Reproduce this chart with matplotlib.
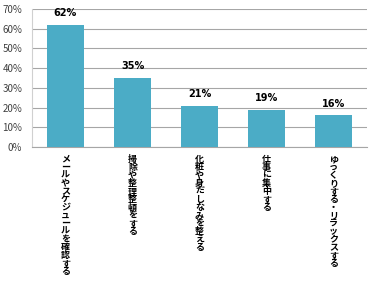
# -*- coding: utf-8 -*-

import numpy as np
import matplotlib
matplotlib.use("Agg")
import matplotlib.pyplot as plt
import matplotlib.ticker as tick

plt.rcParams["font.family"] = ["Noto Sans CJK JP", "DejaVu Sans"]

BAR_COLOR = "#4BACC6"
GRID_COLOR = "#A6A6A6"

categories = ["メールやスケジュールを確認する",
              "掃除や整理整頓をする",
              "化粧や身だしなみを整える",
              "仕事に集中する",
              "ゆっくりする・リラックスする"]
values = [62, 35, 21, 19, 16]
yticks = [0, 10, 20, 30, 40, 50, 60, 70]

fig = plt.figure(figsize=(3.84, 2.87), dpi=100)
ax = fig.add_axes([32/384, 1 - 147/287, 335/384, 138/287])

x = np.arange(len(categories))
ax.bar(x, values, width=0.56, color=BAR_COLOR, zorder=3)

for xi, v in zip(x, values):
    ax.annotate(f"{v}%", (xi, v), xytext=(0, 5), textcoords="offset points",
                ha="center", va="bottom", fontsize=7, fontweight="bold",
                family=["DejaVu Sans"])

ax.set_xlim(-0.5, len(categories) - 0.5)
ax.set_ylim(0, 70)
ax.set_yticks(yticks)
ax.yaxis.set_major_formatter(tick.FuncFormatter(lambda v, p: f"{int(v)}%"))
ax.grid(axis="y", color=GRID_COLOR, lw=0.8, zorder=0)
ax.tick_params(axis="y", length=0, labelsize=7, labelcolor="#404040", pad=7)
ax.tick_params(axis="x", length=0)
ax.set_xticks(x)
ax.set_xticklabels([])

for s in ["top", "right"]:
    ax.spines[s].set_visible(False)
ax.spines["left"].set_color("#D0D0D0")
ax.spines["bottom"].set_color(GRID_COLOR)

# vertical (top-to-bottom) category labels
for xi, c in zip(x, categories):
    ax.text(xi, -4, "\n".join(c), ha="center", va="top", fontsize=6.5,
            linespacing=0.86, fontweight="bold")

fig.savefig("out.png", dpi=100)
